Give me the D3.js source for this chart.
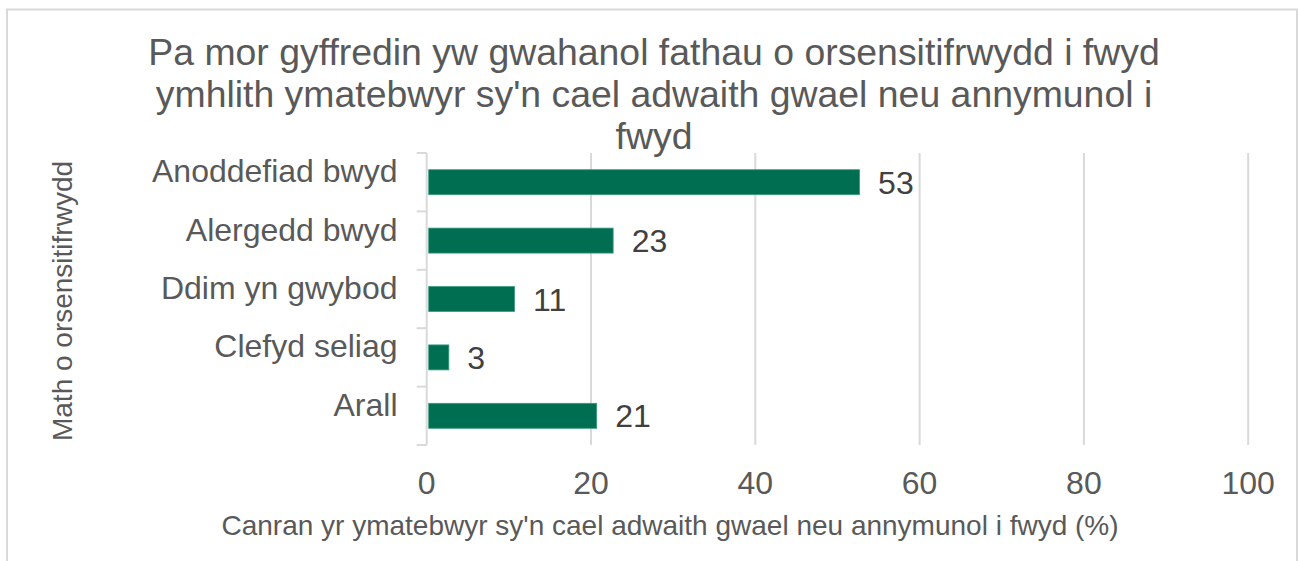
<!DOCTYPE html>
<html><head><meta charset="utf-8">
<script src="https://cdn.jsdelivr.net/npm/d3@7"></script>
<style>body{margin:0;background:#fff;} svg{display:block;} text{font-family:Arial,"Liberation Sans",sans-serif;}</style>
</head><body><svg id="c" width="1298" height="561"></svg>
<script>
const categories = ["Anoddefiad bwyd","Alergedd bwyd","Ddim yn gwybod","Clefyd seliag","Arall"];
const values = [53, 23, 11, 3, 21];
const xTicks = [0, 20, 40, 60, 80, 100];
const titleLines = ["Pa mor gyffredin yw gwahanol fathau o orsensitifrwydd i fwyd","ymhlith ymatebwyr sy'n cael adwaith gwael neu annymunol i","fwyd"];
const xTitle = "Canran yr ymatebwyr sy'n cael adwaith gwael neu annymunol i fwyd (%)";
const yTitle = "Math o orsensitifrwydd";

const svg = d3.select("#c");
const W = 1298, H = 561;
const m = {left: 426.7, right: 1248.2, top: 153, bottom: 445};

// outer border
svg.append("path").attr("d", `M7,${H+5}V9.5H1297V${H+5}`).attr("fill","none").attr("stroke","#d9d9d9").attr("stroke-width",2);

const x = d3.scaleLinear().domain([0,100]).range([m.left, m.right]);
const y = d3.scaleBand().domain(categories).range([m.top, m.bottom]).paddingInner(0.572).paddingOuter(0.286);

// gridlines
svg.append("g").selectAll("line").data(xTicks.filter(d=>d>0)).join("line")
  .attr("x1", d=>x(d)).attr("x2", d=>x(d)).attr("y1", m.top).attr("y2", m.bottom)
  .attr("stroke","#d9d9d9").attr("stroke-width",2);

// y axis line with outward ticks at band boundaries
const step = y.step();
const yAxisG = svg.append("g");
yAxisG.append("line").attr("x1", m.left).attr("x2", m.left).attr("y1", m.top).attr("y2", m.bottom).attr("stroke","#d9d9d9").attr("stroke-width",2);
yAxisG.selectAll("line.tk").data(d3.range(categories.length+1)).join("line").attr("class","tk")
  .attr("x1", m.left-10).attr("x2", m.left).attr("y1", i=>m.top+i*step).attr("y2", i=>m.top+i*step)
  .attr("stroke","#d9d9d9").attr("stroke-width",2);

// bars
svg.append("g").selectAll("rect").data(values).join("rect")
  .attr("x", x(0)+2).attr("y", (d,i)=>y(categories[i]))
  .attr("width", d=>x(d)-x(0)-4.5).attr("height", y.bandwidth())
  .attr("fill","#006f51").attr("stroke","#3d9a82").attr("stroke-width",0.8);

// value labels
svg.append("g").selectAll("text").data(values).join("text")
  .attr("x", d=>x(d)+16).attr("y", (d,i)=>y(categories[i])+y.bandwidth()/2)
  .attr("dy","0.36em").attr("font-size",32).attr("fill","#404040").text(d=>d);

// category labels
svg.append("g").selectAll("text").data(categories).join("text")
  .attr("x", 397.5).attr("y", d=>y(d)+y.bandwidth()/2)
  .attr("text-anchor","end").attr("font-size",32).attr("fill","#595959").text(d=>d);

// x tick labels
svg.append("g").selectAll("text").data(xTicks).join("text")
  .attr("x", d=>x(d)).attr("y", 494).attr("text-anchor","middle")
  .attr("font-size",32).attr("fill","#595959").text(d=>d);

// x title
svg.append("text").attr("x", 670).attr("y", 535).attr("text-anchor","middle")
  .attr("font-size",28).attr("fill","#595959").text(xTitle);

// y title
svg.append("text").attr("transform","translate(72,301) rotate(-90)").attr("text-anchor","middle")
  .attr("font-size",28).attr("fill","#595959").text(yTitle);

// title
svg.append("g").selectAll("text").data(titleLines).join("text")
  .attr("x", 654).attr("y", (d,i)=>65+i*42).attr("text-anchor","middle")
  .attr("font-size",37.4).attr("fill","#595959").text(d=>d);
</script></body></html>
